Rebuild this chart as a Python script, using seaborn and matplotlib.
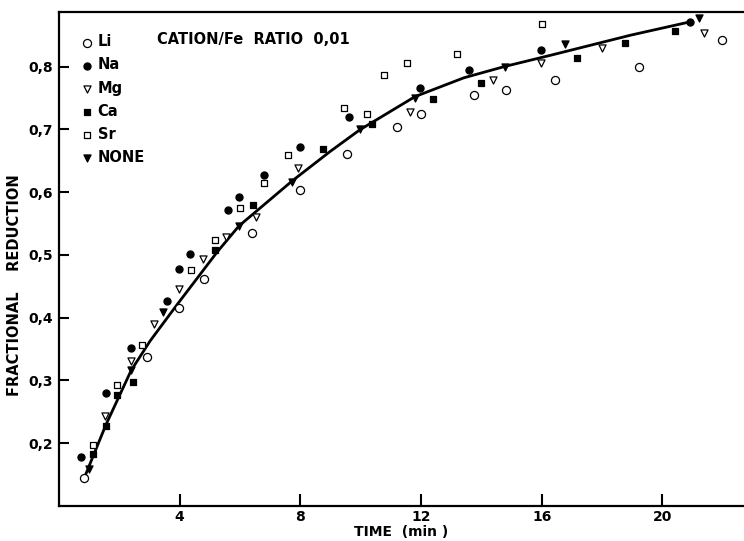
import matplotlib
matplotlib.use("Agg")
import matplotlib.pyplot as plt
import seaborn as sns
import pandas as pd

# data: time (min), fractional reduction
li_t = [0.84, 2.93, 3.98, 4.80, 6.39, 7.98, 9.55, 11.19, 12.01, 13.77, 14.81, 16.43, 19.22, 21.97]
li_r = [0.144, 0.337, 0.415, 0.461, 0.534, 0.604, 0.660, 0.704, 0.725, 0.754, 0.762, 0.779, 0.800, 0.842]

na_t = [0.74, 1.57, 2.40, 3.58, 3.98, 4.35, 5.59, 5.97, 6.81, 8.00, 9.63, 11.96, 13.60, 15.99, 20.90]
na_r = [0.178, 0.280, 0.351, 0.427, 0.478, 0.502, 0.571, 0.592, 0.627, 0.672, 0.720, 0.765, 0.795, 0.826, 0.871]

mg_t = [1.53, 2.38, 3.17, 3.98, 4.78, 5.55, 6.54, 7.91, 11.63, 14.39, 15.99, 17.99, 21.39]
mg_r = [0.243, 0.330, 0.390, 0.446, 0.494, 0.529, 0.560, 0.638, 0.728, 0.778, 0.805, 0.829, 0.853]

ca_t = [1.15, 1.57, 1.94, 2.45, 5.19, 6.45, 8.76, 10.37, 12.39, 14.00, 17.18, 18.76, 20.41]
ca_r = [0.183, 0.228, 0.276, 0.297, 0.508, 0.580, 0.668, 0.708, 0.748, 0.774, 0.814, 0.837, 0.857]

sr_t = [1.15, 1.94, 2.76, 4.38, 5.19, 5.99, 6.79, 7.58, 9.44, 10.21, 10.79, 11.53, 13.20, 16.00]
sr_r = [0.197, 0.293, 0.357, 0.475, 0.524, 0.575, 0.615, 0.659, 0.734, 0.725, 0.787, 0.805, 0.820, 0.867]

none_t = [1.01, 2.38, 3.45, 5.97, 7.74, 9.97, 11.80, 14.77, 16.78, 21.21]
none_r = [0.159, 0.316, 0.409, 0.546, 0.616, 0.700, 0.750, 0.800, 0.836, 0.877]

# smooth curve
curve_t = [0.84, 1.56, 2.40, 3.03, 3.91, 5.24, 5.97, 7.74, 9.00, 9.97, 11.80, 13.42, 14.77, 16.30, 18.95, 20.90]
curve_r = [0.144, 0.229, 0.316, 0.363, 0.420, 0.504, 0.546, 0.618, 0.665, 0.699, 0.752, 0.782, 0.800, 0.818, 0.850, 0.871]

series = [
    ("Li", li_t, li_r, "o", "white", 34),
    ("Na", na_t, na_r, "o", "black", 26),
    ("Mg", mg_t, mg_r, "v", "white", 26),
    ("Ca", ca_t, ca_r, "s", "black", 20),
    ("Sr", sr_t, sr_r, "s", "white", 22),
    ("NONE", none_t, none_r, "v", "black", 26),
]

sns.set_style("ticks")
plt.rcParams["font.family"] = ["DejaVu Sans"]
plt.rcParams["text.color"] = "black"
plt.rcParams["axes.labelcolor"] = "black"
plt.rcParams["xtick.color"] = "black"
plt.rcParams["ytick.color"] = "black"

fig = plt.figure(figsize=(7.44, 5.41), dpi=100)
ax = fig.add_axes([0.079, 0.065, 0.921, 0.913])

curve = pd.DataFrame({"t": curve_t, "r": curve_r})
sns.lineplot(data=curve, x="t", y="r", color="black", linewidth=2.0, sort=False, ax=ax)

for name, t, r, mk, fc, size in series:
    df = pd.DataFrame({"t": t, "r": r})
    sns.scatterplot(data=df, x="t", y="r", marker=mk, s=size, facecolor=fc,
                    edgecolor="black", linewidth=0.9, label=name, ax=ax, zorder=3)

ax.set_xlim(0, 22.7)
ax.set_ylim(0.10, 0.887)
ax.set_xticks([4, 8, 12, 16, 20])
ax.set_yticks([0.2, 0.3, 0.4, 0.5, 0.6, 0.7, 0.8])
ax.set_yticklabels(["0,2", "0,3", "0,4", "0,5", "0,6", "0,7", "0,8"])

ax.tick_params(axis="x", direction="in", length=9, width=1.5, pad=3,
               labelsize=10)
ax.tick_params(axis="y", direction="in", length=7, width=1.5, pad=4,
               labelsize=10)
for lab in ax.get_xticklabels() + ax.get_yticklabels():
    lab.set_fontweight("bold")

for side in ["left", "top", "bottom"]:
    ax.spines[side].set_linewidth(1.6)
    ax.spines[side].set_color("black")
ax.spines["right"].set_visible(False)

ax.set_xlabel("TIME  (min )", fontsize=10, fontweight="bold", labelpad=1)
ax.set_ylabel("FRACTIONAL    REDUCTION", fontsize=10.5, fontweight="bold")
ax.yaxis.set_label_coords(-0.053, 0.447)

ax.text(0.143, 0.944, "CATION/Fe  RATIO  0,01", transform=ax.transAxes,
        fontsize=10.5, fontweight="bold", va="center", ha="left")

leg = ax.legend(loc="upper left", bbox_to_anchor=(0.014, 0.975), frameon=False,
                handletextpad=0.1, labelspacing=0.55, borderaxespad=0.3,
                handlelength=1.2, prop={"weight": "bold", "size": 10.5})

fig.savefig("out.png", dpi=100)
